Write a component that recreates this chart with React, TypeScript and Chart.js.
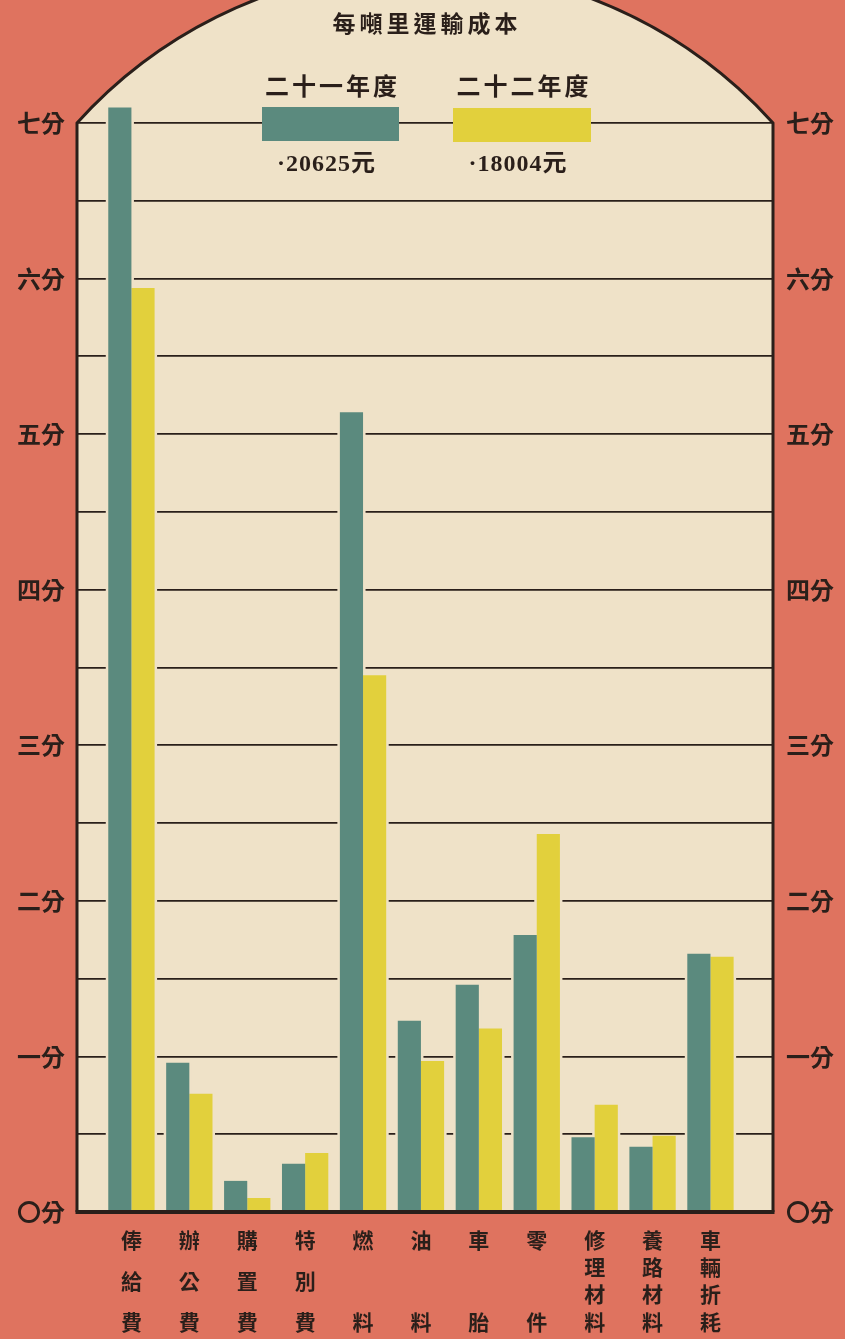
import { useEffect, useRef } from 'react';
import { Chart, registerables } from 'chart.js';

Chart.register(...registerables);

// ---------- data ----------
const chartTitle = '每噸里運輸成本';
const seriesNames = ['二十一年度', '二十二年度'];
const seriesTotals = ['·20625元', '·18004元'];
const categories = ['俸給費', '辦公費', '購置費', '特別費', '燃料', '油料', '車胎', '零件', '修理材料', '養路材料', '車輛折耗'];
const cost21 = [7.10, 0.96, 0.20, 0.31, 5.14, 1.23, 1.46, 1.78, 0.48, 0.42, 1.66];
const cost22 = [5.94, 0.76, 0.09, 0.38, 3.45, 0.97, 1.18, 2.43, 0.69, 0.49, 1.64];
const yTickLabels = ['〇分', '一分', '二分', '三分', '四分', '五分', '六分', '七分'];

// ---------- style ----------
const RED = '#df735f';
const PAPER = '#efe2c8';
const INK = '#2a1f1a';
const TEAL = '#5b8a7e';
const YELLOW = '#e2d03c';
const CJK = '"Noto Sans CJK TC", "Noto Sans CJK SC", sans-serif';
const SERIF = '"Liberation Serif", "Noto Sans CJK TC", serif';

function verticalLines(name: string): string[] {
  const n = name.length;
  const slots = n === 2 ? [0, 6] : n === 3 ? [0, 3, 6] : [0, 2, 4, 6];
  const lines = new Array(7).fill('');
  slots.forEach((s, i) => {
    lines[s] = name[i];
  });
  return lines;
}

function archGeometry(ca: any) {
  const l = ca.left;
  const r = ca.right;
  const top = ca.top;
  const cx = (l + r) / 2;
  const half = (r - l) / 2;
  const s = 155;
  const R = (half * half + s * s) / (2 * s);
  const cy = top - s + R;
  const a0 = Math.atan2(top - cy, l - cx);
  const a1 = Math.atan2(top - cy, r - cx);
  return { l, r, top, bottom: ca.bottom, cx, cy, R, a0, a1 };
}

const paperPlugin = {
  id: 'paper',
  beforeDraw(chart: any) {
    const ctx = chart.ctx;
    const g = archGeometry(chart.chartArea);
    ctx.save();
    ctx.fillStyle = RED;
    ctx.fillRect(0, 0, chart.width, chart.height);
    ctx.beginPath();
    ctx.moveTo(g.l, g.bottom);
    ctx.lineTo(g.l, g.top);
    ctx.arc(g.cx, g.cy, g.R, g.a0, g.a1, false);
    ctx.lineTo(g.r, g.bottom);
    ctx.closePath();
    ctx.fillStyle = PAPER;
    ctx.fill();
    ctx.restore();
  },
  beforeDatasetsDraw(chart: any) {
    const ctx = chart.ctx;
    ctx.save();
    ctx.fillStyle = PAPER;
    chart.data.datasets.forEach((_: any, di: number) => {
      const meta = chart.getDatasetMeta(di);
      meta.data.forEach((el: any) => {
        const p = el.getProps(['x', 'y', 'base', 'width'], true);
        ctx.fillRect(p.x - p.width / 2 - 2.5, p.y, p.width + 5, p.base - p.y);
      });
    });
    ctx.restore();
  },
  afterDraw(chart: any) {
    const ctx = chart.ctx;
    const g = archGeometry(chart.chartArea);
    ctx.save();
    // frame and arch
    ctx.strokeStyle = INK;
    ctx.lineWidth = 3;
    ctx.beginPath();
    ctx.moveTo(g.l, g.bottom);
    ctx.lineTo(g.l, g.top);
    ctx.arc(g.cx, g.cy, g.R, g.a0, g.a1, false);
    ctx.lineTo(g.r, g.bottom);
    ctx.stroke();
    ctx.lineWidth = 4;
    ctx.beginPath();
    ctx.moveTo(g.l - 1.5, g.bottom);
    ctx.lineTo(g.r + 1.5, g.bottom);
    ctx.stroke();

    // title
    ctx.fillStyle = INK;
    ctx.textAlign = 'center';
    ctx.textBaseline = 'middle';
    ctx.font = `bold 23px ${CJK}`;
    (ctx as any).letterSpacing = '4px';
    ctx.fillText(chartTitle, g.cx + 2, 23);

    // legend
    const legend = [
      { name: seriesNames[0], total: seriesTotals[0], color: TEAL, x0: 262, x1: 399, by: 107 },
      { name: seriesNames[1], total: seriesTotals[1], color: YELLOW, x0: 453, x1: 591, by: 108 },
    ];
    legend.forEach((it) => {
      const cx = (it.x0 + it.x1) / 2;
      ctx.fillStyle = it.color;
      ctx.fillRect(it.x0, it.by, it.x1 - it.x0, 34);
      ctx.fillStyle = INK;
      ctx.font = `bold 24px ${CJK}`;
      (ctx as any).letterSpacing = '3px';
      ctx.fillText(it.name, cx + 2, 86);
      ctx.font = `bold 24px ${SERIF}`;
      (ctx as any).letterSpacing = '1px';
      ctx.fillText(it.total, cx - 4, 165);
    });
    (ctx as any).letterSpacing = '0px';
    ctx.restore();
  },
};

export default function App() {
  const ref = useRef<HTMLCanvasElement | null>(null);

  useEffect(() => {
    document.body.style.margin = '0';
    document.body.style.background = RED;
    const canvas = ref.current;
    if (!canvas) return;

    const yTick = (v: any) => (Number.isInteger(v) && v >= 0 && v < yTickLabels.length ? yTickLabels[v] : '');

    const chart = new Chart(canvas, {
      type: 'bar',
      data: {
        datasets: [
          {
            label: seriesNames[0],
            data: categories.map((_, i) => ({ x: i, y: cost21[i] })),
            backgroundColor: TEAL,
            borderWidth: 0,
            clip: false as any,
          },
          {
            label: seriesNames[1],
            data: categories.map((_, i) => ({ x: i, y: cost22[i] })),
            backgroundColor: YELLOW,
            borderWidth: 0,
            clip: false as any,
          },
        ],
      },
      options: {
        responsive: false,
        animation: false,
        devicePixelRatio: 1,
        layout: { padding: { top: 123, left: 0, right: 0, bottom: 0 } },
        datasets: { bar: { barPercentage: 1.0, categoryPercentage: 0.8 } },
        plugins: { legend: { display: false }, tooltip: { enabled: false }, title: { display: false } },
        scales: {
          x: {
            type: 'linear',
            min: -0.94,
            max: 11.08,
            offset: false,
            grid: { display: false, drawTicks: false },
            border: { display: false },
            afterBuildTicks: (scale: any) => {
              scale.ticks = categories.map((_, i) => ({ value: i }));
            },
            afterFit: (scale: any) => {
              scale.height = 127;
            },
            ticks: {
              autoSkip: false,
              maxRotation: 0,
              minRotation: 0,
              padding: 21,
              color: INK,
              font: { family: CJK, size: 21, weight: 'bold', lineHeight: '13.67px' } as any,
              callback: (v: any) =>
                Number.isInteger(v) && v >= 0 && v < categories.length ? verticalLines(categories[v]) : '',
            },
          },
          y: {
            type: 'linear',
            position: 'left',
            min: 0,
            max: 7,
            grid: { color: INK, lineWidth: 1.8, drawTicks: false },
            border: { display: false },
            afterFit: (scale: any) => {
              scale.width = 77;
            },
            ticks: {
              stepSize: 0.5,
              autoSkip: false,
              padding: 12,
              color: INK,
              font: { family: CJK, size: 24, weight: 'bold' },
              callback: yTick,
            },
          },
          y2: {
            type: 'linear',
            position: 'right',
            min: 0,
            max: 7,
            grid: { display: false, drawTicks: false, drawOnChartArea: false },
            border: { display: false },
            afterFit: (scale: any) => {
              scale.width = 72;
            },
            ticks: {
              stepSize: 0.5,
              autoSkip: false,
              padding: 13,
              color: INK,
              font: { family: CJK, size: 24, weight: 'bold' },
              callback: yTick,
            },
          },
        },
      } as any,
      plugins: [paperPlugin],
    });

    return () => chart.destroy();
  }, []);

  return (
    <div style={{ width: 845, height: 1339, background: RED }}>
      <canvas ref={ref} width={845} height={1339} style={{ display: 'block', width: 845, height: 1339 }} />
    </div>
  );
}
